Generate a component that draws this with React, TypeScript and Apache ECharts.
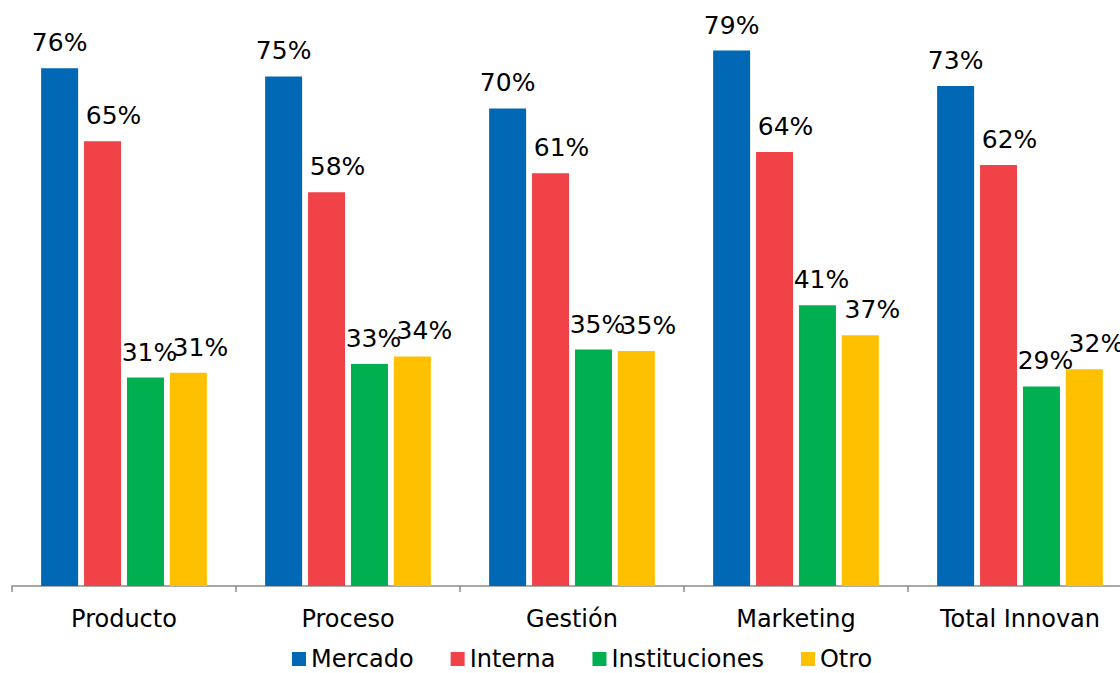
import React, { useEffect, useRef } from "react";
import * as echarts from "echarts";

const categories = ["Producto", "Proceso", "Gestión", "Marketing", "Total Innovan"];
const seriesNames = ["Mercado", "Interna", "Instituciones", "Otro"];
const mercado = [76.0, 74.8, 70.1, 78.6, 73.4];
const interna = [65.3, 57.8, 60.6, 63.7, 61.8];
const instituciones = [30.6, 32.6, 34.7, 41.2, 29.3];
const otro = [31.3, 33.7, 34.5, 36.8, 31.8];

const colors = ["#0068B5", "#F04247", "#00B050", "#FFC000"];
const labelShift = [0, 11, 4, 12];

export default function App() {
  const ref = useRef<HTMLDivElement>(null);
  useEffect(() => {
    if (!ref.current) return;
    const chart = echarts.init(ref.current, null, { renderer: "svg" });
    const allData = [mercado, interna, instituciones, otro];
    const font = "'DejaVu Sans', Verdana, sans-serif";
    chart.setOption({
      animation: false,
      textStyle: { fontFamily: font },
      grid: { left: 12, right: 0, top: 41, bottom: 87, containLabel: false },
      legend: {
        data: seriesNames,
        left: 287,
        top: 647,
        padding: [0, 5, 0, 5],
        itemWidth: 14,
        itemHeight: 14,
        itemGap: 37,
        icon: "rect",
        textStyle: { fontSize: 24, lineHeight: 24, color: "#000", fontFamily: font },
      },
      xAxis: {
        type: "category",
        data: categories,
        axisLine: { lineStyle: { color: "#8c8c8c", width: 1.5 } },
        axisTick: { show: true, length: 6, lineStyle: { color: "#8c8c8c", width: 1.5 } },
        axisLabel: { fontSize: 24, color: "#000", margin: 21, fontFamily: font },
      },
      yAxis: {
        type: "value",
        min: 0,
        max: 80,
        show: false,
        splitLine: { show: false },
      },
      series: seriesNames.map((name, i) => ({
        name,
        type: "bar",
        data: allData[i],
        barWidth: 37,
        barGap: "16%",
        itemStyle: { color: colors[i] },
        label: {
          show: true,
          position: "top",
          distance: 13,
          offset: [labelShift[i], 0],
          fontSize: 25,
          color: "#000",
          fontFamily: font,
          formatter: (p: any) => Math.round(p.value) + "%",
        },
      })),
    });
    return () => chart.dispose();
  }, []);
  return (
    <div
      style={{ position: "fixed", left: 0, top: 0, width: 1120, height: 673, overflow: "hidden", background: "#fff" }}
    >
      <div ref={ref} style={{ width: 1132, height: 673 }} />
    </div>
  );
}
